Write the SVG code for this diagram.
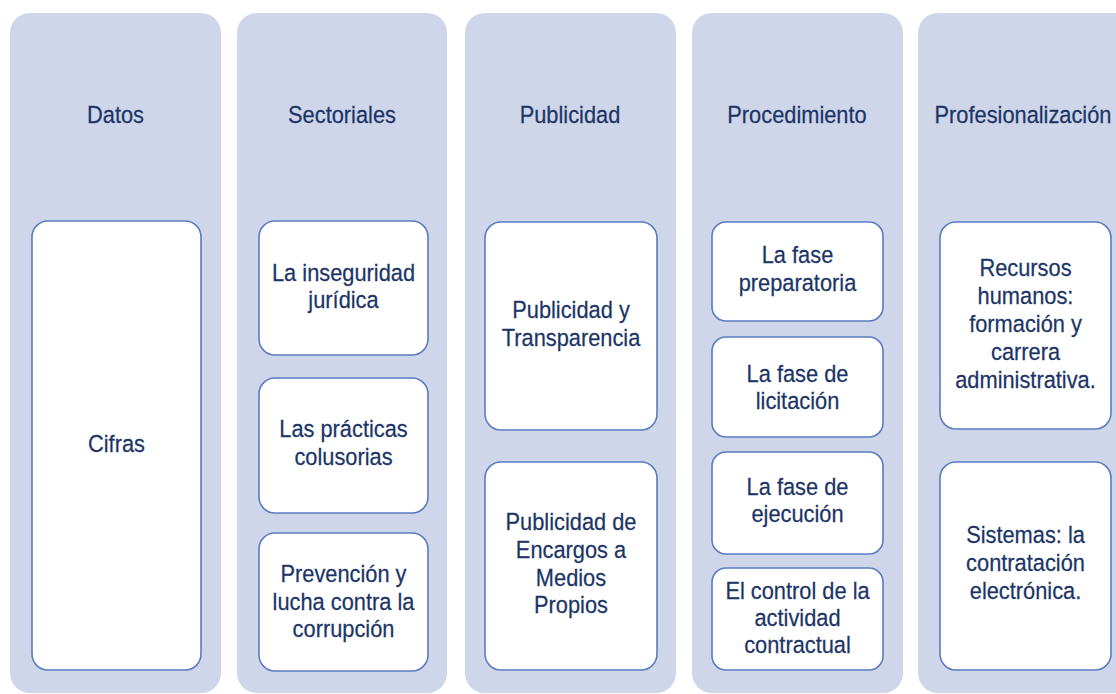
<svg xmlns="http://www.w3.org/2000/svg" width="1116" height="694" viewBox="0 0 1116 694">
<style>
.col{fill:#cfd6ea;}
.box{fill:#ffffff;stroke:#5b7cc0;stroke-width:1.6;}
.t{font-family:"Liberation Sans",Arial,sans-serif;font-size:24.5px;fill:#1c3566;stroke:#1c3566;stroke-width:0.25;text-anchor:middle;}
</style>
<rect width="1116" height="694" fill="#ffffff"/>
<g id="col-datos">
<rect class="col" x="10" y="13" width="211" height="680" rx="20"/>
<text class="t" transform="translate(115.5,0) scale(0.89,1)"><tspan x="0" y="123">Datos</tspan></text>
</g>
<g id="col-sectoriales">
<rect class="col" x="237" y="13" width="210" height="680" rx="20"/>
<text class="t" transform="translate(342,0) scale(0.89,1)"><tspan x="0" y="123">Sectoriales</tspan></text>
</g>
<g id="col-publicidad">
<rect class="col" x="465" y="13" width="211" height="680" rx="20"/>
<text class="t" transform="translate(570,0) scale(0.89,1)"><tspan x="0" y="123">Publicidad</tspan></text>
</g>
<g id="col-procedimiento">
<rect class="col" x="692" y="13" width="211" height="680" rx="20"/>
<text class="t" transform="translate(797,0) scale(0.89,1)"><tspan x="0" y="123">Procedimiento</tspan></text>
</g>
<g id="col-profesionalizacion">
<rect class="col" x="918" y="13" width="230" height="680" rx="20"/>
<text class="t" transform="translate(1023,0) scale(0.89,1)"><tspan x="0" y="123">Profesionalización</tspan></text>
</g>
<g id="connectors"></g>
<g id="n-cifras">
<rect class="box" x="32" y="221" width="169" height="449" rx="16"/>
<text class="t" transform="translate(116.5,0) scale(0.89,1)"><tspan x="0" y="452">Cifras</tspan></text>
</g>
<g id="n-inseguridad">
<rect class="box" x="259" y="221" width="169" height="134" rx="16"/>
<text class="t" transform="translate(343.5,0) scale(0.89,1)"><tspan x="0" y="281">La inseguridad</tspan><tspan x="0" y="308">jurídica</tspan></text>
</g>
<g id="n-colusorias">
<rect class="box" x="259" y="378" width="169" height="135" rx="16"/>
<text class="t" transform="translate(343.5,0) scale(0.89,1)"><tspan x="0" y="437">Las prácticas</tspan><tspan x="0" y="465">colusorias</tspan></text>
</g>
<g id="n-corrupcion">
<rect class="box" x="259" y="533" width="169" height="138" rx="16"/>
<text class="t" transform="translate(343.5,0) scale(0.89,1)"><tspan x="0" y="582">Prevención y</tspan><tspan x="0" y="610">lucha contra la</tspan><tspan x="0" y="637">corrupción</tspan></text>
</g>
<g id="n-transparencia">
<rect class="box" x="485" y="222" width="172" height="208" rx="16"/>
<text class="t" transform="translate(571,0) scale(0.89,1)"><tspan x="0" y="318">Publicidad y</tspan><tspan x="0" y="346">Transparencia</tspan></text>
</g>
<g id="n-encargos">
<rect class="box" x="485" y="462" width="172" height="208" rx="16"/>
<text class="t" transform="translate(571,0) scale(0.89,1)"><tspan x="0" y="530">Publicidad de</tspan><tspan x="0" y="558">Encargos a</tspan><tspan x="0" y="586">Medios</tspan><tspan x="0" y="613">Propios</tspan></text>
</g>
<g id="n-preparatoria">
<rect class="box" x="712" y="222" width="171" height="99" rx="14"/>
<text class="t" transform="translate(797.5,0) scale(0.89,1)"><tspan x="0" y="263">La fase</tspan><tspan x="0" y="291">preparatoria</tspan></text>
</g>
<g id="n-licitacion">
<rect class="box" x="712" y="337" width="171" height="100" rx="14"/>
<text class="t" transform="translate(797.5,0) scale(0.89,1)"><tspan x="0" y="382">La fase de</tspan><tspan x="0" y="409">licitación</tspan></text>
</g>
<g id="n-ejecucion">
<rect class="box" x="712" y="452" width="171" height="102" rx="14"/>
<text class="t" transform="translate(797.5,0) scale(0.89,1)"><tspan x="0" y="495">La fase de</tspan><tspan x="0" y="522">ejecución</tspan></text>
</g>
<g id="n-control">
<rect class="box" x="712" y="568" width="171" height="102" rx="14"/>
<text class="t" transform="translate(797.5,0) scale(0.89,1)"><tspan x="0" y="599">El control de la</tspan><tspan x="0" y="626">actividad</tspan><tspan x="0" y="653">contractual</tspan></text>
</g>
<g id="n-recursos">
<rect class="box" x="940" y="222" width="171" height="207" rx="16"/>
<text class="t" transform="translate(1025.5,0) scale(0.89,1)"><tspan x="0" y="276">Recursos</tspan><tspan x="0" y="304">humanos:</tspan><tspan x="0" y="332">formación y</tspan><tspan x="0" y="360">carrera</tspan><tspan x="0" y="388">administrativa.</tspan></text>
</g>
<g id="n-sistemas">
<rect class="box" x="940" y="462" width="171" height="208" rx="16"/>
<text class="t" transform="translate(1025.5,0) scale(0.89,1)"><tspan x="0" y="543">Sistemas: la</tspan><tspan x="0" y="571">contratación</tspan><tspan x="0" y="599">electrónica.</tspan></text>
</g>
</svg>
